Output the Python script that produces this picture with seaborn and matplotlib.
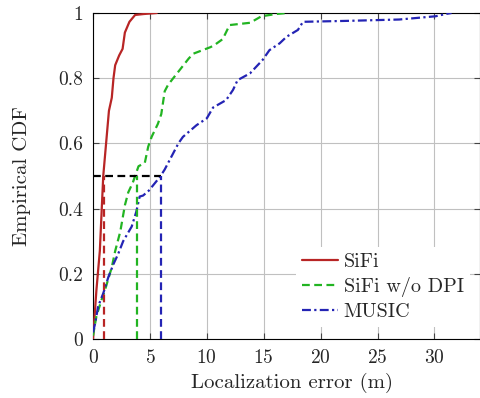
import matplotlib
matplotlib.use("Agg")
import matplotlib.pyplot as plt
import seaborn as sns

# Dữ liệu (lỗi định vị, m) và CDF tương ứng
sifi_x = [0, 0.1, 0.3, 0.6, 0.9, 1.15, 1.4, 1.65, 1.8, 1.95, 2.3, 2.6, 2.8, 3.2, 3.7, 4.5, 5.6]
sifi_y = [0, 0.05, 0.15, 0.27, 0.5, 0.6, 0.7, 0.74, 0.80, 0.84, 0.87, 0.89, 0.94, 0.973, 0.994, 0.997, 1.0]

nodpi_x = [0, 0.3, 0.75, 1.05, 1.65, 1.95, 2.4, 2.8, 3.1, 3.5, 4.0, 4.55, 4.85, 5.15, 5.7, 6.0,
           6.3, 6.6, 7.5, 8.4, 8.8, 10.3, 10.6, 11.4, 12.0, 13.8, 14.8, 16.1, 17.1]
nodpi_y = [0.01, 0.07, 0.12, 0.15, 0.22, 0.27, 0.33, 0.41, 0.45, 0.48, 0.53, 0.54, 0.59, 0.62, 0.66, 0.69,
           0.76, 0.78, 0.82, 0.86, 0.875, 0.895, 0.90, 0.92, 0.963, 0.97, 0.99, 0.997, 1.0]

music_x = [0, 0.2, 0.45, 0.9, 1.35, 1.8, 2.2, 2.65, 3.4, 3.8, 4.1, 4.4, 4.9, 5.9, 6.3, 6.9, 7.5, 7.9,
           9.1, 10.0, 10.55, 11.7, 12.3, 12.7, 13.8, 14.9, 15.5, 16.4, 17.0, 18.0, 18.45, 22.5, 26.9,
           30.1, 31.0, 31.5]
music_y = [0.02, 0.05, 0.10, 0.14, 0.19, 0.23, 0.26, 0.30, 0.345, 0.39, 0.437, 0.44, 0.455, 0.498, 0.52,
           0.56, 0.60, 0.62, 0.656, 0.677, 0.71, 0.733, 0.764, 0.794, 0.815, 0.856, 0.886, 0.907, 0.927,
           0.948, 0.973, 0.976, 0.98, 0.99, 0.997, 1.0]

medians = [0.96, 3.9, 6.0]
labels = ["SiFi", "SiFi w/o DPI", "MUSIC"]
colors = ["#b82525", "#22b422", "#2424b4"]
styles = ["-", (0, (3.5, 2)), (0, (4, 1.5, 1, 1.5))]
xticks = [0, 5, 10, 15, 20, 25, 30]
yticks = [0, 0.2, 0.4, 0.6, 0.8, 1]
ytick_labels = ["0", "0.2", "0.4", "0.6", "0.8", "1"]

sns.set_style("ticks")
plt.rcParams["font.family"] = ["cmr10", "DejaVu Serif"]
plt.rcParams["mathtext.fontset"] = "cm"
plt.rcParams["axes.formatter.use_mathtext"] = True

fig = plt.figure(figsize=(4.81, 3.98), dpi=100)
ax = fig.add_axes([93 / 481, 59 / 398, 387 / 481, 326 / 398])

series = [(sifi_x, sifi_y), (nodpi_x, nodpi_y), (music_x, music_y)]
for (xs, ys), lab, col, ls in zip(series, labels, colors, styles):
    sns.lineplot(x=xs, y=ys, ax=ax, color=col, linestyle=ls, linewidth=1.6,
                 sort=False, estimator=None, label=lab, zorder=3)

# đường trung vị
ax.hlines(0.5, 0, max(medians), colors="black", linestyles=(0, (3.5, 2)), linewidth=1.6, zorder=4)
for m, col in zip(medians, colors):
    ax.vlines(m, 0, 0.5, colors=col, linestyles=(0, (3.5, 2)), linewidth=1.6, zorder=4)

ax.set_xlim(0, 34)
ax.set_ylim(0, 1)
ax.set_xticks(xticks)
ax.set_yticks(yticks)
ax.set_yticklabels(ytick_labels)
ax.grid(True, color="#c0c0c0", linewidth=0.8)
ax.set_axisbelow(True)
ax.tick_params(direction="in", length=4, labelsize=14, pad=7, top=True, right=True, color="#444444")
for s in ax.spines.values():
    s.set_color("black")
    s.set_linewidth(0.8)
ax.set_xlabel("Localization error (m)", fontsize=15)
ax.set_ylabel("Empirical CDF", fontsize=15)
ax.xaxis.set_label_coords(0.514, -0.105)
ax.yaxis.set_label_coords(-0.16, 0.5)

leg = ax.legend(loc="lower right", bbox_to_anchor=(1.0, 0.005), frameon=True, fontsize=14.5,
                handlelength=1.75, handletextpad=0.3, borderpad=0.3, labelspacing=0.3)
leg.get_frame().set_edgecolor("none")
leg.get_frame().set_facecolor("white")
leg.get_frame().set_alpha(1)

fig.savefig("out.png", dpi=100)
